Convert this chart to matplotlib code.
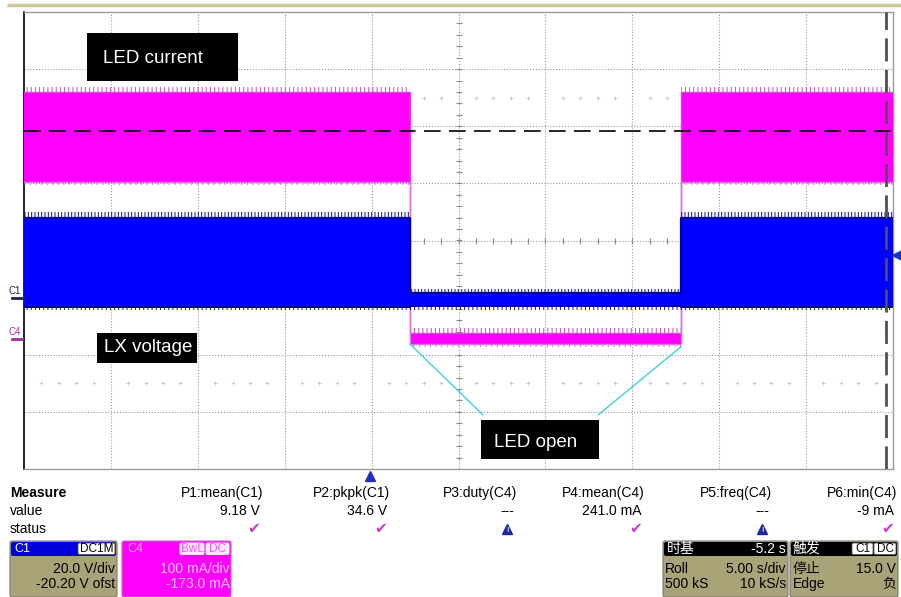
import matplotlib
matplotlib.use('Agg')
import matplotlib.pyplot as plt
from matplotlib.patches import Rectangle, FancyBboxPatch
import numpy as np

plt.rcParams['font.family'] = ['Liberation Sans', 'Noto Sans CJK SC', 'DejaVu Sans']
plt.rcParams['hatch.linewidth'] = 0.7

# ---------------- data ----------------
time_edges_s = [0.0, 22.2, 37.8, 50.0]          # segment boundaries (LED on / open / on)
c4_high_mA = [433, 11, 433]                      # LED current envelope, upper
c4_low_mA = [275, -8, 275]                       # LED current envelope, lower
c1_high_V = [28.0, 1.8, 28.0]                    # LX voltage envelope, upper
c1_low_V = [-3.0, -2.8, -3.0]                    # LX voltage envelope, lower
c1_spike_V = [30.2, 3.2, 30.2]                   # LX voltage ragged peak fringe
cursor_level_mA = 365
cursor_time_s = 49.6
trigger_level_V = 15.0

c1_scale_V, c1_offset_V = 20.0, -20.20
c4_scale_mA, c4_offset_mA = 100.0, -173.0
time_per_div_s = 5.0
n_xdiv, n_ydiv = 10, 8

measure_names = ['P1:mean(C1)', 'P2:pkpk(C1)', 'P3:duty(C4)',
                 'P4:mean(C4)', 'P5:freq(C4)', 'P6:min(C4)']
measure_values = ['9.18 V', '34.6 V', '---', '241.0 mA', '---', '-9 mA']
measure_status = ['ok', 'ok', 'warn', 'ok', 'warn', 'ok']

# ---------------- figure ----------------
W, H = 901, 597
fig = plt.figure(figsize=(W / 100, H / 100), dpi=100)
fig.patch.set_facecolor('white')

L, R, T, B = 24, 893, 12, 469
ax = fig.add_axes([L / W, 1 - B / H, (R - L) / W, (B - T) / H])
tmax = n_xdiv * time_per_div_s
ax.set_xlim(0, tmax)
ax.set_ylim(-n_ydiv / 2, n_ydiv / 2)
ax.set_xticks([]); ax.set_yticks([])
for s in ['top', 'right', 'bottom']:
    ax.spines[s].set_color('#9a9a9a'); ax.spines[s].set_linewidth(1)
ax.spines['left'].set_color('black'); ax.spines['left'].set_linewidth(1.2)

grid_kw = dict(color='#9a9a9a', lw=0.8, ls=(0, (1, 1.6)), zorder=1)
for i in range(1, n_xdiv):
    ax.axvline(i * time_per_div_s, **grid_kw)
for j in range(-n_ydiv // 2 + 1, n_ydiv // 2):
    ax.axhline(j, **grid_kw)

# minor ticks on the centre axes
minor_y = np.arange(-4, 4.01, 0.2)
ax.plot(np.full_like(minor_y, tmax / 2), minor_y, ls='none', marker='_',
        ms=5, mew=0.8, color='#8a8a8a', zorder=1)
minor_x = np.arange(0, tmax + 0.01, 0.2 * time_per_div_s)
ax.plot(minor_x, np.zeros_like(minor_x), ls='none', marker='|',
        ms=5, mew=0.8, color='#8a8a8a', zorder=1)
for yy in (2.5, -2.5):
    pts = [x for x in minor_x if abs((x / time_per_div_s) % 1) > 0.05]
    ax.plot(pts, np.full(len(pts), yy), ls='none', marker='+', ms=3,
            mew=0.6, color='#c4c4c4', zorder=1)

# channel axes
axi = ax.twinx()
axi.set_ylim(-n_ydiv / 2 * c4_scale_mA - c4_offset_mA, n_ydiv / 2 * c4_scale_mA - c4_offset_mA)
axv = ax.twinx()
axv.set_ylim(-n_ydiv / 2 * c1_scale_V - c1_offset_V, n_ydiv / 2 * c1_scale_V - c1_offset_V)
for a in (axi, axv):
    a.set_yticks([]); a.axis('off')
    a.set_xlim(0, tmax)

def ext(v):
    return list(v) + [v[-1]]

# LED current (C4)
hi4, lo4 = ext(c4_high_mA), ext(c4_low_mA)
axi.fill_between(time_edges_s, lo4, hi4, step='post', color='#ff00ff', lw=0, zorder=2)
axi.fill_between(time_edges_s, hi4, [h + 8 for h in hi4], step='post', fc='none',
                 ec='#c050c0', hatch='||||', lw=0, zorder=2)
axi.fill_between(time_edges_s, [l - 5 for l in lo4], lo4, step='post', fc='none',
                 ec='#d070d0', hatch='|||', lw=0, zorder=2)
axi.step(time_edges_s, hi4, where='post', color='#e040e0', lw=1.0, zorder=3)
axi.step(time_edges_s, lo4, where='post', color='#e070e0', lw=1.0, zorder=3)
axi.axhline(cursor_level_mA, color='black', lw=1.2, dashes=(10, 5), zorder=4)

# LX voltage (C1)
hi1, lo1 = ext(c1_high_V), ext(c1_low_V)
axv.fill_between(time_edges_s, lo1, hi1, step='post', color='#0000ff', lw=0, zorder=2)
axv.fill_between(time_edges_s, hi1, ext(c1_spike_V), step='post', fc='none',
                 ec='#10108a', hatch='|||||', lw=0, zorder=2)
axv.fill_between(time_edges_s, [l - 1.2 for l in lo1], lo1, step='post', fc='none',
                 ec='#10108a', hatch='||||', lw=0, zorder=2)
axv.step(time_edges_s, hi1, where='post', color='#00009a', lw=1.6, zorder=3)
axv.step(time_edges_s, lo1, where='post', color='#000090', lw=1.4, zorder=3)
axv.axvline(cursor_time_s, color='#505050', lw=2, dashes=(8.3, 3), zorder=4)

# cyan annotation lines (LED open)
open_low = -132
axv.plot([time_edges_s[1], 26.4], [c4_low_mA[1], open_low], color='#40d0e0', lw=1,
         transform=axi.transData, zorder=5)
axv.plot([33.05, time_edges_s[2]], [open_low, c4_low_mA[1] - 5], color='#40d0e0', lw=1,
         transform=axi.transData, zorder=5)

# ---------------- overlay (pixel coordinates) ----------------
ov = fig.add_axes([0, 0, 1, 1], zorder=10)
ov.set_xlim(0, W); ov.set_ylim(H, 0); ov.axis('off'); ov.patch.set_alpha(0)

ov.plot([7, W], [5, 5], color='#cfc99a', lw=2.5, solid_capstyle='butt')

def label_box(x0, y0, x1, y1, tx, ty, s):
    ov.add_patch(Rectangle((x0, y0), x1 - x0, y1 - y0, fc='black', ec='none'))
    ov.text(tx, ty, s, color='white', fontsize=13.5, ha='left', va='baseline')

label_box(87, 33, 238, 81, 103, 63, 'LED current')
label_box(97, 333, 197, 363, 104, 352, 'LX voltage')
label_box(481, 420, 599, 459, 494, 447, 'LED open')

# channel ground markers
c1_gnd_px = 240.5 - (0 + c1_offset_V) / c1_scale_V * 57.125
c4_gnd_px = 240.5 - (0 + c4_offset_mA) / c4_scale_mA * 57.125
ov.text(15, c1_gnd_px - 7, 'C1', fontsize=7, color='#202060', ha='center', va='center')
ov.plot([12, 24], [c1_gnd_px, c1_gnd_px], color='#202060', lw=2)
ov.text(15, c4_gnd_px - 7, 'C4', fontsize=7, color='#a030a0', ha='center', va='center')
ov.plot([12, 22], [c4_gnd_px, c4_gnd_px], color='#a030a0', lw=2)
trig_px = 240.5 - (trigger_level_V + c1_offset_V) / c1_scale_V * 57.125
ov.plot([897], [trig_px], marker='<', ms=7, color='#2030c0', ls='none')
ov.plot([370], [476], marker='^', ms=7, color='#2030c0', ls='none')

# measurement table
fs = 10
ov.text(10, 493, 'Measure', fontsize=fs, fontweight='bold', va='center')
ov.text(10, 511, 'value', fontsize=fs, va='center')
ov.text(10, 529, 'status', fontsize=fs, va='center')
right_edges = [263, 390, 517, 645, 772, 897]
for xr, nm, val, st in zip(right_edges, measure_names, measure_values, measure_status):
    ov.text(xr, 493, nm, fontsize=fs, ha='right', va='center')
    ov.text(xr - 3, 511, val, fontsize=fs, ha='right', va='center')
    if st == 'ok':
        ov.text(xr - 9, 529, '\u2714', fontsize=11, color='#c83cc8', ha='center',
                va='center', family='DejaVu Sans')
    else:
        ov.plot([xr - 10], [529], marker='^', ms=7, color='#1a2aa0', ls='none')
        ov.text(xr - 10, 530, '!', fontsize=5, color='white', ha='center', va='center',
                fontweight='bold')

def rbox(x0, y0, x1, y1, fc, ec='#7a7a7a', lw=0.8, r=2):
    ov.add_patch(FancyBboxPatch((x0, y0), x1 - x0, y1 - y0,
                                boxstyle=f'round,pad=0,rounding_size={r}',
                                fc=fc, ec=ec, lw=lw))

khaki = '#a8a478'
def tag(x0, x1, s, fc='white', tc='black', ec='#555555'):
    rbox(x0, 543, x1, 554.5, fc, ec=ec, lw=0.6, r=1.5)
    ov.text((x0 + x1) / 2, 549, s, fontsize=8.5, color=tc, ha='center', va='center')

# C1 box
rbox(10, 541, 117, 597, khaki)
rbox(11, 542, 116, 556, '#0000dd', ec='none')
ov.text(14, 548.5, 'C1', fontsize=9, color='white', va='center')
tag(78, 115, 'DC1M')
ov.text(115, 569, f'{c1_scale_V:.1f} V/div', fontsize=fs, ha='right', va='center')
ov.text(115, 584, f'{c1_offset_V:.2f} V ofst', fontsize=fs, ha='right', va='center')

# C4 box
rbox(122, 541, 231, 597, '#ff00ff', ec='#cc66cc')
ov.text(127, 548.5, 'C4', fontsize=9, color='#ffa8ff', va='center')
tag(180, 204, 'BwL', fc='#ffe8ff', tc='#ff55ff', ec='#ffffff')
tag(206, 229, 'DC', fc='#ffe8ff', tc='#ff55ff', ec='#ffffff')
ov.text(230, 569, f'{c4_scale_mA:.0f} mA/div', fontsize=fs, ha='right', va='center', color='#ffc0ff')
ov.text(230, 584, f'{c4_offset_mA:.1f} mA', fontsize=fs, ha='right', va='center', color='#ffc0ff')

# timebase box
rbox(663, 541, 788, 597, khaki)
rbox(664, 542, 787, 556, 'black', ec='none')
ov.text(667, 549, '时基', fontsize=10, color='white', va='center')
ov.text(786, 549, '-5.2 s', fontsize=fs, color='white', ha='right', va='center')
ov.text(665, 569, 'Roll', fontsize=fs, va='center')
ov.text(786, 569, f'{time_per_div_s:.2f} s/div', fontsize=fs, ha='right', va='center')
ov.text(665, 584, '500 kS', fontsize=fs, va='center')
ov.text(786, 584, '10 kS/s', fontsize=fs, ha='right', va='center')

# trigger box
rbox(790, 541, 898, 597, khaki)
rbox(791, 542, 897, 556, 'black', ec='none')
ov.text(793, 549, '触发', fontsize=10, color='white', va='center')
tag(852, 873, 'C1')
tag(874, 896, 'DC')
ov.text(793, 569, '停止', fontsize=10, va='center')
ov.text(896, 569, f'{trigger_level_V:.1f} V', fontsize=fs, ha='right', va='center')
ov.text(793, 584, 'Edge', fontsize=fs, va='center')
ov.text(896, 584, '负', fontsize=10, ha='right', va='center')

fig.savefig('out.png', dpi=100, facecolor='white')
